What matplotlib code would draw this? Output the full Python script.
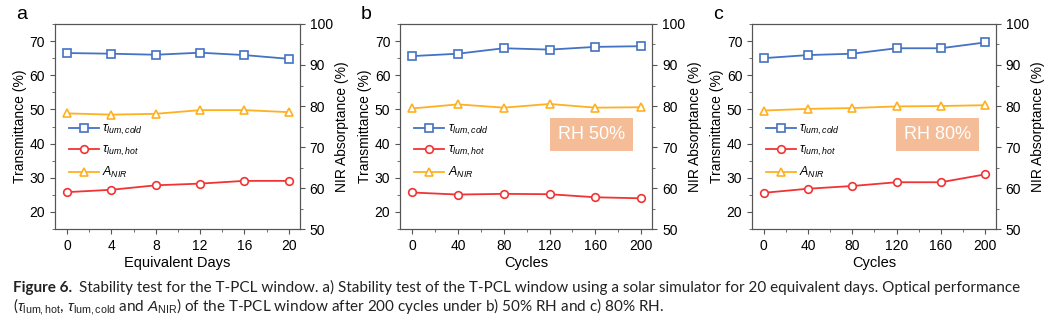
import numpy as np
import matplotlib.pyplot as plt
from matplotlib.ticker import MultipleLocator, AutoMinorLocator

plt.rcParams['font.family'] = ['Liberation Sans', 'DejaVu Sans']
plt.rcParams['mathtext.fontset'] = 'custom'
plt.rcParams['mathtext.it'] = 'Liberation Sans:italic'
plt.rcParams['mathtext.rm'] = 'Liberation Sans'

# ============================================================
# DATA
# ============================================================

days = [0, 4, 8, 12, 16, 20]
cycles = [0, 40, 80, 120, 160, 200]

# a) solar simulator
a_cold = [66.5, 66.3, 66.0, 66.6, 65.9, 64.8]
a_hot = [25.8, 26.5, 27.8, 28.3, 29.1, 29.1]
a_nir = [78.2, 77.9, 78.1, 79.0, 79.0, 78.5]

# b) RH 50%
b_cold = [65.6, 66.3, 67.9, 67.5, 68.3, 68.5]
b_hot = [25.7, 25.1, 25.3, 25.2, 24.3, 24.0]
b_nir = [79.4, 80.4, 79.6, 80.5, 79.6, 79.7]

# c) RH 80%
c_cold = [65.0, 65.9, 66.3, 67.9, 67.9, 69.6]
c_hot = [25.6, 26.8, 27.6, 28.7, 28.7, 31.0]
c_nir = [78.9, 79.3, 79.5, 79.9, 80.0, 80.2]

BLUE = '#4472c4'
RED = '#f23333'
ORANGE = '#ffb020'
BOX = '#f4bd98'
CAP = ['Lato', 'Liberation Sans']

# ============================================================
# PLOTTING
# ============================================================

fig = plt.figure(figsize=(10.51, 3.24), dpi=100)

panels = [
    dict(pos=[0.0523, 0.293, 0.233, 0.633], x=days, cold=a_cold, hot=a_hot, nir=a_nir,
         xlim=(-1.1, 21.0), xlabel='Equivalent Days', tag='a', box=None),
    dict(pos=[0.3806, 0.293, 0.240, 0.633], x=cycles, cold=b_cold, hot=b_hot, nir=b_nir,
         xlim=(-10.5, 209.6), xlabel='Cycles', tag='b', box='RH 50%'),
    dict(pos=[0.7155, 0.293, 0.232, 0.633], x=cycles, cold=c_cold, hot=c_hot, nir=c_nir,
         xlim=(-10.5, 209.6), xlabel='Cycles', tag='c', box='RH 80%'),
]

for p in panels:
    ax = fig.add_axes(p['pos'])
    ax2 = ax.twinx()

    mk = dict(markersize=5.5, markerfacecolor='white', markeredgewidth=1.2, linewidth=1.3)
    l1, = ax.plot(p['x'], p['cold'], '-s', color=BLUE, label=r'$\tau_{lum,cold}$', **mk)
    l2, = ax.plot(p['x'], p['hot'], '-o', color=RED, label=r'$\tau_{lum,hot}$', **mk)
    l3, = ax2.plot(p['x'], p['nir'], '-^', color=ORANGE, label=r'$A_{NIR}$', **mk)

    ax.set_xlim(*p['xlim'])
    ax.set_ylim(15, 75)
    ax2.set_ylim(50, 100)
    ax.set_xticks(p['x'])
    ax.xaxis.set_minor_locator(AutoMinorLocator(2))
    ax.yaxis.set_major_locator(MultipleLocator(10))
    ax.yaxis.set_minor_locator(AutoMinorLocator(2))
    ax2.yaxis.set_major_locator(MultipleLocator(10))
    ax2.yaxis.set_minor_locator(AutoMinorLocator(2))

    for a in (ax, ax2):
        a.tick_params(which='both', direction='out', labelsize=10, color='#555555')
        a.tick_params(which='major', length=3.5)
        a.tick_params(which='minor', length=2)
        for s in a.spines.values():
            s.set_color('#555555')

    ax.set_xlabel(p['xlabel'], fontsize=10.5, labelpad=2)
    ax.set_ylabel('Transmittance (%)', fontsize=10, labelpad=2)
    ax2.set_ylabel('NIR Absorptance (%)', fontsize=10, labelpad=2)

    ax.legend(handles=[l1, l2, l3], loc='upper left', bbox_to_anchor=(0.02, 0.56),
              frameon=False, fontsize=9, handlelength=2.4, labelspacing=0.55,
              handletextpad=0.3, borderaxespad=0.3)

    if p['box']:
        ax.text(0.76, 0.46, p['box'], transform=ax.transAxes, fontsize=13,
                color='white', ha='center', va='center',
                bbox=dict(boxstyle='square,pad=0.45', facecolor=BOX, edgecolor='none'))

    fig.text(p['pos'][0] - 0.037, 0.93, p['tag'], fontsize=14, va='bottom')

# ============================================================
# CAPTION
# ============================================================

cap1 = fig.text(0.012, 0.1, 'Figure 6.', fontsize=11, fontweight='bold',
                family=CAP, color='#222222')
fig.axes[0].annotate(
    'Stability test for the T-PCL window. a) Stability test of the T-PCL window using a solar '
    'simulator for 20 equivalent days. Optical performance',
    xy=(1, 0), xycoords=cap1, xytext=(5, 0), textcoords='offset points',
    fontsize=11, family=CAP, color='#222222', va='bottom', annotation_clip=False)
fig.text(0.012, 0.04,
         r'($\tau_{\rm lum,hot}$, $\tau_{\rm lum,cold}$ and $A_{\rm NIR}$) of the T-PCL window after '
         r'200 cycles under b) 50% RH and c) 80% RH.',
         fontsize=11, family=CAP, color='#222222')

fig.savefig('out.png', dpi=100)
